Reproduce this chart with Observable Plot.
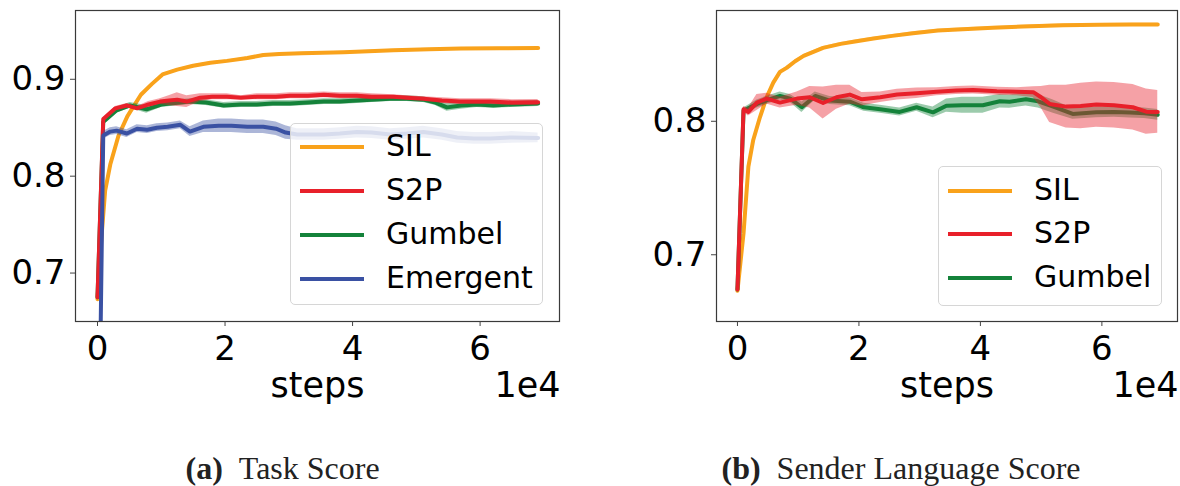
<!DOCTYPE html>
<html>
<head>
<meta charset="utf-8">
<script src="https://cdn.jsdelivr.net/npm/d3@7"></script>
<script src="https://cdn.jsdelivr.net/npm/@observablehq/plot@0.6"></script>
<style>
  html, body { margin: 0; padding: 0; background: #fff; }
  #wrap { position: relative; width: 1180px; height: 486px; overflow: hidden; font-family: "DejaVu Sans", sans-serif; }
  .panel { position: absolute; top: 0; }
  .legend { position: absolute; background: rgba(255,255,255,0.8); border: 1px solid #d6d6d6; border-radius: 5px; box-sizing: border-box; }
  .row { position: absolute; left: 0; height: 0; }
  .sw { position: absolute; width: 64px; height: 4px; margin-top: -2px; }
  .lb { position: absolute; font-size: 30px; line-height: 30px; margin-top: -16px; white-space: nowrap; color: #000; }
  .cap { position: absolute; top: 452px; font-family: "Liberation Serif", serif; font-size: 32px; line-height: 32px; white-space: nowrap; color: #222; }
</style>
</head>
<body>
<div id="wrap"></div>
<script>
// ---------- data (x in units of 1e4 steps) ----------
const xTicks = [0, 2, 4, 6];
const yTicksA = [0.7, 0.8, 0.9];
const yTicksB = [0.7, 0.8];
const seriesNamesA = ["SIL", "S2P", "Gumbel", "Emergent"];
const seriesNamesB = ["SIL", "S2P", "Gumbel"];
const colors = {SIL: "#f9a21b", S2P: "#e8202a", Gumbel: "#14823a", Emergent: "#3a51a3"};

// (a) Task Score
const silA_x = [0, 0.06, 0.12, 0.2, 0.33, 0.47, 0.68, 0.85, 1.02, 1.25, 1.5, 1.77, 2.03, 2.35, 2.6, 2.85, 3.2, 3.86, 4.64, 5.2, 5.7, 6.3, 6.91];
const silA_y = [0.673, 0.735, 0.785, 0.812, 0.842, 0.862, 0.884, 0.895, 0.905, 0.910, 0.914, 0.917, 0.919, 0.922, 0.925, 0.926, 0.927, 0.928, 0.930, 0.931, 0.9317, 0.932, 0.9323];
const silA_e = [0, 0.001, 0.001, 0.001, 0.001, 0.001, 0.001, 0.001, 0.001, 0.001, 0.001, 0.001, 0.001, 0.001, 0.001, 0.001, 0.001, 0.001, 0.001, 0.001, 0.001, 0.001, 0.001];

const s2pA_x = [0, 0.09, 0.28, 0.46, 0.62, 0.8, 0.98, 1.12, 1.25, 1.4, 1.61, 1.8, 2.03, 2.25, 2.5, 2.8, 3.02, 3.3, 3.55, 3.8, 4.07, 4.3, 4.64, 4.85, 5.11, 5.4, 5.69, 5.9, 6.16, 6.5, 6.91];
const s2pA_y = [0.675, 0.859, 0.870, 0.873, 0.870, 0.874, 0.877, 0.878, 0.879, 0.877, 0.881, 0.882, 0.882, 0.881, 0.882, 0.882, 0.883, 0.883, 0.884, 0.883, 0.883, 0.882, 0.882, 0.881, 0.880, 0.878, 0.877, 0.877, 0.877, 0.876, 0.8762];
const s2pA_e = [0, 0.001, 0.002, 0.002, 0.002, 0.003, 0.003, 0.005, 0.007, 0.006, 0.004, 0.003, 0.003, 0.002, 0.003, 0.003, 0.003, 0.003, 0.003, 0.003, 0.003, 0.003, 0.002, 0.002, 0.002, 0.003, 0.003, 0.003, 0.003, 0.003, 0.003];

const gumA_x = [0, 0.09, 0.3, 0.51, 0.77, 1.0, 1.14, 1.45, 1.7, 1.98, 2.25, 2.5, 2.75, 3.02, 3.3, 3.55, 3.8, 4.07, 4.3, 4.59, 4.85, 5.11, 5.3, 5.48, 5.7, 5.95, 6.21, 6.5, 6.91];
const gumA_y = [0.675, 0.856, 0.868, 0.873, 0.869, 0.874, 0.875, 0.877, 0.876, 0.873, 0.874, 0.874, 0.875, 0.875, 0.876, 0.877, 0.877, 0.878, 0.879, 0.880, 0.880, 0.879, 0.876, 0.871, 0.873, 0.874, 0.873, 0.874, 0.875];
const gumA_e = [0, 0.002, 0.003, 0.003, 0.004, 0.003, 0.003, 0.003, 0.003, 0.003, 0.003, 0.003, 0.003, 0.003, 0.003, 0.003, 0.003, 0.003, 0.003, 0.003, 0.003, 0.003, 0.003, 0.004, 0.004, 0.003, 0.003, 0.003, 0.003];

const emgA_x = [0, 0.09, 0.2, 0.3, 0.46, 0.62, 0.78, 0.93, 1.1, 1.3, 1.45, 1.66, 1.9, 2.1, 2.35, 2.6, 2.8, 2.95, 3.13, 3.35, 3.55, 3.8, 4.07, 4.3, 4.59, 4.85, 5.11, 5.4, 5.64, 5.9, 6.16, 6.5, 6.91];
const emgA_y = [0.40, 0.842, 0.846, 0.847, 0.844, 0.849, 0.848, 0.850, 0.851, 0.853, 0.846, 0.851, 0.852, 0.852, 0.851, 0.851, 0.849, 0.845, 0.843, 0.843, 0.843, 0.844, 0.8455, 0.845, 0.843, 0.844, 0.8455, 0.843, 0.840, 0.839, 0.839, 0.840, 0.8395];
const emgA_e = [0, 0.004, 0.004, 0.004, 0.004, 0.004, 0.004, 0.004, 0.004, 0.004, 0.005, 0.006, 0.007, 0.007, 0.007, 0.007, 0.007, 0.007, 0.006, 0.006, 0.006, 0.006, 0.006, 0.006, 0.006, 0.006, 0.006, 0.006, 0.006, 0.006, 0.006, 0.006, 0.005];

// (b) Sender Language Score
const silB_x = [0, 0.1, 0.18, 0.26, 0.37, 0.48, 0.59, 0.70, 0.81, 0.95, 1.09, 1.25, 1.41, 1.7, 1.96, 2.24, 2.55, 2.89, 3.3, 3.71, 4.2, 4.7, 5.36, 5.96, 6.5, 6.92];
const silB_y = [0.673, 0.716, 0.766, 0.786, 0.803, 0.818, 0.829, 0.837, 0.840, 0.845, 0.849, 0.852, 0.855, 0.858, 0.860, 0.862, 0.864, 0.866, 0.868, 0.869, 0.870, 0.871, 0.872, 0.8723, 0.8725, 0.8725];
const silB_e = [0, 0.001, 0.001, 0.001, 0.001, 0.001, 0.001, 0.001, 0.001, 0.001, 0.001, 0.001, 0.001, 0.001, 0.001, 0.001, 0.001, 0.001, 0.001, 0.001, 0.001, 0.001, 0.001, 0.001, 0.001, 0.001];

const s2pB_x = [0, 0.1, 0.18, 0.32, 0.48, 0.70, 0.98, 1.19, 1.41, 1.63, 1.85, 2.05, 2.35, 2.63, 2.95, 3.28, 3.6, 3.88, 4.27, 4.6, 4.87, 5.0, 5.14, 5.41, 5.65, 5.91, 6.2, 6.51, 6.73, 6.92];
const s2pB_y = [0.674, 0.809, 0.807, 0.814, 0.817, 0.814, 0.817, 0.818, 0.8137, 0.818, 0.820, 0.8165, 0.818, 0.820, 0.821, 0.8222, 0.823, 0.8235, 0.8225, 0.8222, 0.8218, 0.818, 0.813, 0.811, 0.8115, 0.8125, 0.812, 0.8105, 0.8072, 0.8070];
const s2pB_e = [0, 0.002, 0.003, 0.006, 0.004, 0.004, 0.005, 0.008, 0.012, 0.009, 0.007, 0.005, 0.004, 0.004, 0.004, 0.003, 0.003, 0.003, 0.003, 0.003, 0.004, 0.008, 0.014, 0.016, 0.017, 0.017, 0.017, 0.017, 0.017, 0.016];

const gumB_x = [0, 0.1, 0.32, 0.5, 0.70, 0.87, 1.06, 1.28, 1.52, 1.85, 2.08, 2.35, 2.67, 2.95, 3.22, 3.44, 3.7, 4.04, 4.32, 4.48, 4.75, 4.95, 5.2, 5.52, 5.91, 6.2, 6.46, 6.7, 6.92];
const gumB_y = [0.674, 0.808, 0.813, 0.816, 0.819, 0.817, 0.8105, 0.819, 0.8155, 0.8147, 0.8105, 0.809, 0.807, 0.8105, 0.8067, 0.8117, 0.812, 0.812, 0.815, 0.8147, 0.8165, 0.815, 0.811, 0.8055, 0.8067, 0.807, 0.8065, 0.806, 0.8048];
const gumB_e = [0, 0.002, 0.003, 0.003, 0.003, 0.003, 0.004, 0.003, 0.003, 0.003, 0.003, 0.003, 0.003, 0.003, 0.004, 0.005, 0.006, 0.006, 0.005, 0.005, 0.005, 0.005, 0.005, 0.004, 0.004, 0.004, 0.004, 0.004, 0.004];

// ---------- helpers ----------
const table = (xs, ys, es) => xs.map((x, i) => ({x, y: ys[i], lo: ys[i] - es[i], hi: ys[i] + es[i]}));

function seriesMarks(data, color) {
  return [
    Plot.areaY(data, {x: "x", y1: "lo", y2: "hi", fill: color, fillOpacity: 0.42, clip: true}),
    Plot.lineY(data, {x: "x", y: "y", stroke: color, strokeWidth: 4, clip: true})
  ];
}

function panel(opts) {
  const {width, marginLeft, marginRight, yDomain, yTicks, series} = opts;
  return Plot.plot({
    width, height: 420,
    marginLeft, marginRight, marginTop: 10, marginBottom: 99,
    style: {fontFamily: "DejaVu Sans", background: "transparent", overflow: "visible"},
    x: {domain: [-0.345, 7.245]},
    y: {domain: yDomain},
    marks: [
      ...series.flatMap(s => seriesMarks(s.data, s.color)),
      Plot.frame({stroke: "#3a3a3a", strokeWidth: 1.2}),
      Plot.axisX({ticks: xTicks, tickFormat: d => String(d), tickSize: 5, tickPadding: 9, fontSize: 34, label: null, stroke: "#444"}),
      Plot.axisY({ticks: yTicks, tickFormat: d3.format(".1f"), tickSize: 5, tickPadding: 5, fontSize: 34, label: null, stroke: "#444"}),
      Plot.text(["steps"], {text: d => d, frameAnchor: "bottom", lineAnchor: "middle", dy: 64, fontSize: 35}),
      Plot.text(["1e4"], {text: d => d, frameAnchor: "bottom-right", textAnchor: "end", lineAnchor: "middle", dy: 64, dx: 1, fontSize: 35})
    ]
  });
}

const wrap = document.getElementById("wrap");

// Panel (a)
const pa = panel({
  width: 600, marginLeft: 75, marginRight: 41,
  yDomain: [0.650, 0.971], yTicks: yTicksA,
  series: [
    {data: table(silA_x, silA_y, silA_e), color: colors.SIL},
    {data: table(gumA_x, gumA_y, gumA_e), color: colors.Gumbel},
    {data: table(s2pA_x, s2pA_y, s2pA_e), color: colors.S2P},
    {data: table(emgA_x, emgA_y, emgA_e), color: colors.Emergent}
  ]
});
pa.classList.add("panel"); pa.style.left = "0px";
wrap.appendChild(pa);

// Panel (b)
const pb = panel({
  width: 560, marginLeft: 96, marginRight: 3,
  yDomain: [0.650, 0.883], yTicks: yTicksB,
  series: [
    {data: table(silB_x, silB_y, silB_e), color: colors.SIL},
    {data: table(gumB_x, gumB_y, gumB_e), color: colors.Gumbel},
    {data: table(s2pB_x, s2pB_y, s2pB_e), color: colors.S2P}
  ]
});
pb.classList.add("panel"); pb.style.left = "620px";
wrap.appendChild(pb);

// Legends
function legend(names, left, top, w, h, rows) {
  const box = document.createElement("div");
  box.className = "legend";
  Object.assign(box.style, {left: left + "px", top: top + "px", width: w + "px", height: h + "px"});
  names.forEach((n, i) => {
    const r = document.createElement("div");
    r.className = "row"; r.style.top = rows[i] + "px";
    const sw = document.createElement("div");
    sw.className = "sw"; sw.style.left = "9px"; sw.style.background = colors[n];
    const lb = document.createElement("div");
    lb.className = "lb"; lb.style.left = "95px"; lb.textContent = n;
    r.appendChild(sw); r.appendChild(lb); box.appendChild(r);
  });
  wrap.appendChild(box);
}
legend(seriesNamesA, 290, 123, 253, 182, [23, 67, 111, 155]);
legend(seriesNamesB, 938, 166, 224, 140, [24, 67, 111]);

// Captions
function caption(bold, rest, center) {
  const c = document.createElement("div");
  c.className = "cap";
  const b = document.createElement("b"); b.textContent = bold;
  c.appendChild(b);
  c.appendChild(document.createTextNode("\u2002" + rest));
  wrap.appendChild(c);
  c.style.left = (center - c.offsetWidth / 2) + "px";
}
caption("(a)", "Task Score", 282.5);
caption("(b)", "Sender Language Score", 901);
</script>
</body>
</html>
